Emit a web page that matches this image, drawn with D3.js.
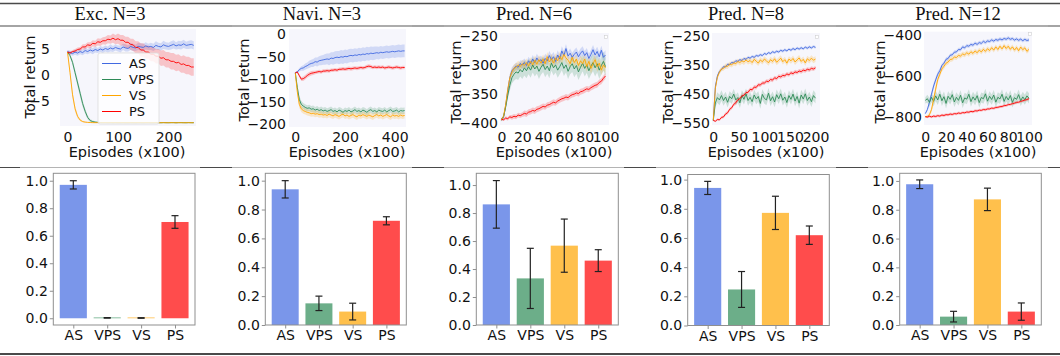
<!DOCTYPE html>
<html><head><meta charset="utf-8">
<script src="https://cdn.jsdelivr.net/npm/d3@7"></script>
<style>
html,body{margin:0;padding:0;background:#fff;}
svg{display:block;}
</style></head><body>
<svg id="c" width="1060" height="356"></svg>
<script>
// ---------------- DATA ----------------
const methods = ["AS","VPS","VS","PS"];
const titles = ["Exc. N=3","Navi. N=3","Pred. N=6","Pred. N=8","Pred. N=12"];
const xAxisTitle = "Episodes (x100)";
const yAxisTitle = "Total return";

// sampling grids (episodes x100)
const excEpisodes = d3.range(0, 251, 5);
const navEpisodes = d3.range(0, 441, 8);
const p6Episodes = d3.range(0, 101, 2);
const p8Episodes = d3.range(0, 201, 4);
const p12Episodes = d3.range(0, 101, 2);

// Exc. N=3
const excAS = [4.6,4.4,4.2,4.5,4.3,4.6,4.4,4.8,4.6,4.9,4.7,5.0,4.8,5.1,4.9,5.2,5.0,5.3,5.1,5.4,5.2,5.1,5.5,5.3,5.2,5.6,5.4,5.3,5.6,5.5,5.4,5.7,5.5,5.6,5.4,5.8,5.6,5.5,5.9,5.7,5.6,5.8,6.0,5.7,5.9,5.8,6.1,5.8,5.9,6.0,5.8];
const excASsd = [0.3,0.4,0.4,0.5,0.5,0.5,0.5,0.6,0.5,0.6,0.6,0.6,0.5,0.6,0.6,0.6,0.6,0.7,0.6,0.6,0.6,0.7,0.6,0.7,0.6,0.7,0.7,0.6,0.7,0.7,0.7,0.7,0.6,0.7,0.7,0.8,0.7,0.7,0.8,0.7,0.7,0.8,0.8,0.7,0.8,0.8,0.8,0.7,0.8,0.8,0.8];
const excVPS = [4.5,3.8,2.5,0.5,-1.5,-3.5,-5.5,-7.0,-8.2,-8.8,-9.0,-9.1,-9.15,-9.18,-9.2,-9.2,-9.21,-9.2,-9.22,-9.2,-9.21,-9.22,-9.2,-9.21,-9.22,-9.21,-9.2,-9.22,-9.21,-9.2,-9.22,-9.21,-9.2,-9.21,-9.22,-9.2,-9.21,-9.22,-9.2,-9.21,-9.22,-9.21,-9.2,-9.22,-9.21,-9.2,-9.21,-9.22,-9.2,-9.21,-9.22];
const excVPSsd = [0.1,0.3,0.5,0.6,0.7,0.7,0.6,0.5,0.4,0.3,0.2,0.15,0.1,0.1,0.08,0.08,0.08,0.08,0.08,0.08,0.08,0.08,0.08,0.08,0.08,0.08,0.08,0.08,0.08,0.08,0.08,0.08,0.08,0.08,0.08,0.08,0.08,0.08,0.08,0.08,0.08,0.08,0.08,0.08,0.08,0.08,0.08,0.08,0.08,0.08,0.08];
const excVS = [4.5,0.5,-3.8,-6.5,-8.0,-8.7,-9.0,-9.1,-9.15,-9.18,-9.2,-9.21,-9.2,-9.22,-9.21,-9.2,-9.22,-9.21,-9.2,-9.21,-9.22,-9.2,-9.21,-9.22,-9.2,-9.21,-9.22,-9.21,-9.2,-9.22,-9.21,-9.2,-9.21,-9.22,-9.2,-9.21,-9.22,-9.21,-9.2,-9.22,-9.21,-9.2,-9.21,-9.22,-9.2,-9.21,-9.22,-9.21,-9.2,-9.22,-9.21];
const excVSsd = [0.1,0.6,0.7,0.6,0.4,0.25,0.15,0.1,0.08,0.08,0.08,0.08,0.08,0.08,0.08,0.08,0.08,0.08,0.08,0.08,0.08,0.08,0.08,0.08,0.08,0.08,0.08,0.08,0.08,0.08,0.08,0.08,0.08,0.08,0.08,0.08,0.08,0.08,0.08,0.08,0.08,0.08,0.08,0.08,0.08,0.08,0.08,0.08,0.08,0.08,0.08];
const excPS = [4.5,4.3,4.6,4.7,5.0,5.1,5.5,5.5,5.9,5.8,6.2,6.1,6.5,6.4,6.7,6.7,7.0,6.9,7.2,6.9,7.1,6.8,6.8,6.4,6.4,6.0,5.9,5.4,5.4,4.9,4.9,4.5,4.5,4.1,4.1,3.7,3.7,3.3,3.4,3.0,3.0,2.7,2.7,2.4,2.5,2.1,2.2,1.9,1.9,1.6,1.6];
const excPSsd = [0.3,0.3,0.3,0.4,0.4,0.4,0.5,0.5,0.5,0.6,0.6,0.6,0.7,0.7,0.7,0.8,0.8,0.8,0.9,0.9,1.0,1.0,1.0,1.1,1.1,1.1,1.2,1.2,1.2,1.3,1.3,1.3,1.3,1.4,1.4,1.4,1.4,1.5,1.5,1.5,1.5,1.6,1.6,1.6,1.6,1.6,1.7,1.7,1.7,1.7,1.7];

// Navi. N=3
const navAS = [-86,-84,-79,-76,-75,-72,-70,-67,-65,-64,-61,-62,-59,-58,-57,-56,-55,-56,-53,-54,-52,-51,-52,-50,-51,-49,-50,-48,-47,-48,-46,-47,-45,-46,-44,-45,-43,-44,-42,-43,-42,-41,-42,-40,-41,-40,-39,-40,-39,-38,-39,-38,-37,-38,-37,-37];
const navASsd = [2,3,4,5,6,7,7,8,8,9,9,10,10,11,11,12,12,13,13,14,14,14,15,15,15,15,15,15,15,15,15,15,15,15,15,15,15,15,15,15,15,14,14,14,14,14,14,14,14,14,14,14,14,14,14,14];
const navVPS = [-86,-118,-145,-156,-160,-163,-165,-164,-167,-166,-169,-167,-170,-168,-171,-169,-172,-170,-168,-172,-170,-173,-169,-171,-174,-170,-172,-169,-173,-171,-168,-172,-170,-173,-169,-171,-174,-170,-168,-172,-170,-173,-169,-171,-172,-169,-173,-170,-168,-172,-171,-169,-173,-170,-171,-170];
const navVPSsd = [1,6,8,8,7,7,7,7,7,7,7,7,7,7,7,7,7,7,7,7,7,7,7,7,7,7,7,7,7,7,7,7,7,7,7,7,7,7,7,7,7,7,7,7,7,7,7,7,7,7,7,7,7,7,7,7];
const navVS = [-86,-128,-156,-166,-170,-172,-174,-175,-177,-176,-178,-177,-179,-178,-180,-179,-181,-178,-180,-182,-179,-181,-183,-180,-178,-182,-180,-183,-181,-179,-182,-184,-180,-182,-179,-181,-183,-180,-182,-184,-181,-179,-182,-180,-183,-181,-179,-182,-184,-180,-182,-181,-183,-180,-182,-181];
const navVSsd = [1,6,8,7,7,7,7,7,7,7,7,7,7,7,7,7,7,7,7,7,7,7,7,7,7,7,7,7,7,7,7,7,7,7,7,7,7,7,7,7,7,7,7,7,7,7,7,7,7,7,7,7,7,7,7,7];
const navPS = [-86,-84,-92,-100,-99,-96,-92,-89,-87,-86,-85,-84,-83,-84,-82,-82,-81,-82,-80,-80,-79,-80,-78,-78,-77,-78,-77,-76,-77,-76,-75,-76,-75,-74,-75,-74,-72,-71,-72,-74,-73,-74,-73,-74,-73,-75,-74,-73,-74,-75,-74,-73,-74,-75,-74,-74];
const navPSsd = [1,2,3,4,5,5,5,5,5,5,4,4,4,4,4,4,4,4,4,4,4,4,4,4,4,4,4,4,4,4,4,4,4,4,4,4,4,4,4,4,4,4,4,4,4,4,4,4,4,4,4,4,4,4,4,4];

// Pred. N=6
const p6AS = [-395,-390,-370,-345,-322,-310,-306,-302,-304,-298,-300,-296,-301,-293,-298,-290,-296,-288,-294,-291,-297,-289,-293,-284,-291,-286,-294,-283,-290,-276,-284,-272,-285,-280,-287,-282,-278,-286,-280,-276,-284,-279,-289,-282,-274,-283,-277,-286,-275,-287,-283];
const p6ASsd = [2,3,5,6,6,6,6,6,6,6,7,7,7,7,7,7,7,7,7,7,8,8,8,8,8,8,8,8,8,8,8,8,8,8,8,8,8,8,8,8,8,8,8,8,8,8,8,8,8,8,8];
const p6VPS = [-393,-388,-372,-352,-335,-322,-316,-312,-314,-308,-312,-305,-310,-303,-309,-300,-307,-302,-311,-304,-299,-308,-302,-310,-297,-305,-300,-309,-303,-296,-306,-300,-311,-303,-298,-307,-301,-312,-304,-297,-306,-300,-310,-302,-296,-305,-298,-309,-301,-294,-303];
const p6VPSsd = [2,3,5,7,9,10,11,12,12,12,12,13,13,13,13,13,13,13,13,13,13,13,13,13,13,13,13,13,13,13,13,13,13,13,14,14,14,14,14,14,14,14,14,15,15,15,15,15,15,16,16];
const p6VS = [-395,-388,-368,-342,-322,-312,-306,-304,-300,-303,-298,-301,-296,-302,-294,-300,-292,-299,-291,-297,-290,-298,-286,-295,-289,-297,-288,-293,-285,-291,-282,-288,-292,-298,-287,-296,-290,-301,-293,-298,-290,-303,-294,-306,-298,-291,-303,-297,-309,-300,-305];
const p6VSsd = [2,3,5,6,6,6,7,7,7,7,7,7,7,7,7,8,8,8,8,8,8,8,8,8,8,8,8,8,8,8,8,8,8,8,8,8,8,9,9,9,9,9,9,9,9,9,9,9,9,9,9];
const p6PS = [-393,-394,-391,-392,-389,-390,-388,-389,-386,-387,-385,-383,-384,-381,-380,-378,-379,-376,-375,-373,-371,-372,-369,-368,-366,-364,-365,-362,-360,-358,-357,-355,-356,-353,-351,-350,-348,-349,-346,-345,-343,-341,-342,-339,-337,-335,-334,-330,-328,-323,-319];
const p6PSsd = [2,2,3,3,3,4,4,4,4,4,4,5,5,5,5,5,5,5,5,5,5,5,5,5,5,5,5,5,5,5,5,5,5,5,5,5,5,5,5,5,5,5,5,5,5,5,5,5,5,5,5];

// Pred. N=8
const p8AS = [-540,-425,-388,-372,-366,-356,-357,-348,-349,-342,-343,-336,-338,-332,-335,-328,-331,-324,-327,-321,-324,-318,-320,-315,-318,-311,-314,-308,-311,-305,-308,-303,-306,-300,-303,-298,-302,-296,-300,-294,-298,-292,-296,-291,-295,-289,-293,-288,-292,-287,-290];
const p8ASsd = [2,8,6,5,5,5,5,5,5,5,5,5,5,5,5,5,5,5,5,5,5,5,5,5,5,5,5,5,5,5,5,5,5,5,5,5,5,5,5,5,5,5,5,5,5,5,5,5,5,5,5];
const p8VPS = [-540,-480,-462,-470,-455,-472,-460,-478,-458,-466,-450,-470,-462,-480,-455,-468,-449,-472,-461,-476,-453,-467,-458,-482,-451,-465,-470,-447,-473,-459,-477,-452,-466,-449,-471,-460,-479,-455,-468,-450,-474,-458,-481,-453,-467,-449,-472,-460,-476,-455,-464];
const p8VPSsd = [2,14,18,18,18,18,18,18,18,18,18,18,18,18,18,18,18,18,18,18,18,18,18,18,18,18,18,18,18,18,18,18,18,18,18,18,18,18,18,18,18,18,18,18,18,18,18,18,18,18,18];
const p8VS = [-540,-430,-392,-375,-364,-362,-354,-355,-347,-350,-343,-346,-338,-342,-336,-340,-333,-339,-335,-342,-331,-337,-344,-333,-339,-330,-336,-343,-332,-338,-329,-341,-334,-327,-339,-332,-344,-330,-336,-328,-340,-333,-326,-338,-331,-343,-329,-335,-327,-334,-330];
const p8VSsd = [2,10,8,8,8,8,9,9,9,9,9,9,9,10,10,10,10,10,10,10,10,10,10,10,10,10,10,10,10,10,10,10,10,10,10,10,10,10,10,10,10,10,10,10,10,10,10,10,10,10,10];
const p8PS = [-540,-543,-537,-538,-530,-528,-518,-514,-502,-497,-485,-480,-469,-466,-456,-454,-445,-444,-434,-435,-426,-427,-418,-419,-412,-412,-406,-407,-400,-402,-394,-397,-389,-391,-386,-387,-381,-384,-377,-380,-374,-376,-371,-373,-368,-370,-365,-367,-362,-364,-360];
const p8PSsd = [3,3,4,4,5,5,6,6,6,6,7,7,7,7,7,7,7,7,7,7,7,7,7,7,7,7,7,7,7,7,7,7,7,7,7,7,7,7,7,7,7,7,7,7,7,7,7,7,7,7,7];

// Pred. N=12
const p12AS = [-785,-765,-730,-690,-650,-620,-592,-575,-549,-538,-519,-515,-499,-497,-484,-483,-471,-472,-458,-463,-452,-455,-446,-450,-440,-446,-437,-441,-431,-437,-429,-432,-424,-430,-422,-426,-419,-424,-417,-421,-414,-421,-417,-425,-419,-426,-420,-428,-421,-427,-424];
const p12ASsd = [3,8,12,14,15,14,13,12,11,10,10,10,9,9,9,9,9,9,9,9,9,9,9,9,9,9,9,9,9,9,9,9,9,9,9,9,9,9,9,9,9,9,9,9,9,9,9,9,9,9,9];
const p12VPS = [-720,-712,-730,-705,-725,-698,-718,-690,-722,-702,-735,-700,-715,-692,-728,-705,-720,-695,-732,-708,-714,-690,-726,-703,-719,-697,-731,-706,-712,-688,-724,-700,-716,-694,-729,-705,-713,-690,-725,-701,-718,-696,-730,-707,-715,-692,-722,-703,-717,-698,-710];
const p12VPSsd = [15,20,22,24,25,25,25,25,25,25,25,25,25,25,25,25,25,25,25,25,25,25,25,25,25,25,25,25,25,25,25,25,25,25,25,25,25,25,25,25,25,25,25,25,25,25,25,25,25,25,25];
const p12VS = [-800,-798,-790,-765,-715,-665,-618,-592,-566,-553,-538,-532,-520,-518,-508,-510,-500,-503,-493,-497,-487,-494,-482,-490,-478,-487,-474,-483,-470,-480,-467,-476,-462,-474,-458,-471,-455,-468,-452,-466,-455,-470,-458,-474,-461,-477,-459,-472,-463,-480,-470];
const p12VSsd = [3,4,8,14,18,18,16,15,14,13,12,12,12,12,12,12,12,12,12,12,12,12,12,12,12,12,12,12,12,12,12,12,12,12,12,12,12,12,12,12,12,12,12,12,12,12,12,12,12,12,12];
const p12PS = [-800,-802,-798,-801,-797,-799,-795,-797,-792,-794,-790,-791,-787,-789,-785,-786,-782,-784,-780,-781,-777,-778,-774,-776,-771,-772,-768,-769,-765,-766,-762,-762,-758,-759,-755,-754,-751,-750,-746,-745,-741,-740,-736,-734,-730,-729,-725,-722,-719,-716,-712];
const p12PSsd = [4,5,6,6,7,7,7,7,7,7,7,7,7,7,7,7,7,7,7,7,7,7,7,7,7,7,7,7,7,7,7,7,7,7,7,7,7,7,7,7,7,7,7,7,7,7,7,7,7,7,7];

// tick values
const excYTicks = [-5, 0, 5], excXTicks = [0, 100, 200];
const navYTicks = [-200, -150, -100, -50, 0], navXTicks = [0, 200, 400];
const p6YTicks = [-400, -350, -300, -250], p6XTicks = [0, 20, 40, 60, 80, 100];
const p8YTicks = [-550, -450, -350, -250], p8XTicks = [0, 50, 100, 150, 200];
const p12YTicks = [-800, -600, -400], p12XTicks = [0, 20, 40, 60, 80, 100];
const barYTicks = [0, 0.2, 0.4, 0.6, 0.8, 1.0];

// success rates (bottom row)
const barExc = [0.97, 0.003, 0.002, 0.70],   barExcErr = [0.03, 0.002, 0.002, 0.046];
const barNav = [0.94, 0.15, 0.093, 0.722],   barNavErr = [0.06, 0.05, 0.058, 0.028];
const barP6 = [0.862, 0.333, 0.567, 0.46],   barP6Err = [0.17, 0.215, 0.19, 0.078];
const barP8 = [0.943, 0.247, 0.772, 0.619],  barP8Err = [0.045, 0.123, 0.114, 0.063];
const barP12 = [0.977, 0.058, 0.872, 0.093], barP12Err = [0.03, 0.037, 0.078, 0.06];

// ---------------- STYLE / LAYOUT ----------------
const colors = ["#4169e1", "#2e8b57", "#ffa500", "#ff0000"];
const SANS = "DejaVu Sans, sans-serif";
const SERIF = "Liberation Serif, Times New Roman, serif";

const topPanels = [
  {eps: excEpisodes, series: [[excAS,excASsd],[excVPS,excVPSsd],[excVS,excVSsd],[excPS,excPSsd]], yTicks: excYTicks, xTicks: excXTicks},
  {eps: navEpisodes, series: [[navAS,navASsd],[navVPS,navVPSsd],[navVS,navVSsd],[navPS,navPSsd]], yTicks: navYTicks, xTicks: navXTicks},
  {eps: p6Episodes, series: [[p6AS,p6ASsd],[p6VPS,p6VPSsd],[p6VS,p6VSsd],[p6PS,p6PSsd]], yTicks: p6YTicks, xTicks: p6XTicks},
  {eps: p8Episodes, series: [[p8AS,p8ASsd],[p8VPS,p8VPSsd],[p8VS,p8VSsd],[p8PS,p8PSsd]], yTicks: p8YTicks, xTicks: p8XTicks},
  {eps: p12Episodes, series: [[p12AS,p12ASsd],[p12VPS,p12VPSsd],[p12VS,p12VSsd],[p12PS,p12PSsd]], yTicks: p12YTicks, xTicks: p12XTicks}
];
const topLayout = [
  {bg:[60,196,29,126],   xRef:[0,200], xPix:[67.5,168.5],  yRef:[5,-5],      yPix:[49.5,101],  labRight:50,  ylab:[29.5,77],  xlabX:127, legend:true},
  {bg:[289,406,29,127],  xRef:[0,400], xPix:[295.3,394.7], yRef:[0,-200],    yPix:[34.3,124],  labRight:286, ylab:[243.5,80], xlabX:347},
  {bg:[500,609,33,125],  xRef:[0,100], xPix:[501.5,605.5], yRef:[-250,-400], yPix:[35.7,123.3],labRight:498, ylab:[455.5,82], xlabX:554, box:[604.5,35.5]},
  {bg:[712,820,33,125],  xRef:[0,200], xPix:[713.3,815.5], yRef:[-250,-550], yPix:[35.7,123.3],labRight:710, ylab:[667.5,82], xlabX:766, box:[815.5,35.5]},
  {bg:[924,1032,31.7,125],xRef:[0,100],xPix:[925.3,1029],  yRef:[-400,-800], yPix:[35,116.7],  labRight:922, ylab:[879.5,82], xlabX:978, box:[1028.5,32.5]}
];
const barPanels = [
  {v: barExc, e: barExcErr, frame:[53.3,195,173.3,325], yDom:[-0.049,1.054]},
  {v: barNav, e: barNavErr, frame:[265.3,406.3,173.3,325], yDom:[0,1.051]},
  {v: barP6, e: barP6Err, frame:[476.3,618.3,173.3,325], yDom:[0,1.084]},
  {v: barP8, e: barP8Err, frame:[687.7,829.3,174.5,325.5], yDom:[0,1.035]},
  {v: barP12, e: barP12Err, frame:[899.7,1041.3,173.3,325], yDom:[0,1.053]}
];

// ---------------- DRAW ----------------
const svg = d3.select("#c");
const intFmt = d3.format("d");

// table rules
function rule(y, w, col, x0, x1) {
  svg.append("line").attr("x1", x0).attr("x2", x1).attr("y1", y).attr("y2", y)
    .attr("stroke", col).attr("stroke-width", w);
}
rule(3.5, 1.5, "#4a4a4a", 0, 1060);
[26, 167.5].forEach(y => {
  rule(y, 1.2, "#4a4a4a", 0, 1060);
  for (let k = 0; k < 5; k++) rule(y, 1.2, "#b4b4b4", 20 + 212 * k, 200 + 212 * k);
});
rule(354, 2, "#4a4a4a", 0, 1060);

// headers
titles.forEach((t, k) => {
  svg.append("text").attr("x", 110 + 212 * k).attr("y", 20).attr("text-anchor", "middle")
    .attr("font-family", SERIF).attr("font-size", 18.5).attr("fill", "#111").text(t);
});

function styleAxis(g) {
  g.select(".domain").remove();
  g.attr("font-family", SANS).attr("font-size", 14);
  g.selectAll("text").attr("fill", "#111");
}

// top row: learning curves
topPanels.forEach((p, i) => {
  const L = topLayout[i];
  const x = d3.scaleLinear().domain(L.xRef).range(L.xPix);
  const y = d3.scaleLinear().domain(L.yRef).range(L.yPix);
  const g = svg.append("g");
  const cid = "clip" + i;
  svg.append("clipPath").attr("id", cid).append("rect")
    .attr("x", L.bg[0]).attr("y", L.bg[2]).attr("width", L.bg[1] - L.bg[0]).attr("height", L.bg[3] - L.bg[2]);
  g.append("rect").attr("x", L.bg[0]).attr("y", L.bg[2]).attr("width", L.bg[1] - L.bg[0])
    .attr("height", L.bg[3] - L.bg[2]).attr("fill", "#f6f6fc");
  const pg = g.append("g").attr("clip-path", `url(#${cid})`);
  p.series.forEach((s, j) => {
    const pts = d3.zip(p.eps, s[0], s[1]);
    pg.append("path").datum(pts)
      .attr("d", d3.area().x(d => x(d[0])).y0(d => y(d[1] - d[2])).y1(d => y(d[1] + d[2])))
      .attr("fill", colors[j]).attr("fill-opacity", 0.2);
  });
  p.series.forEach((s, j) => {
    const pts = d3.zip(p.eps, s[0], s[1]);
    pg.append("path").datum(pts)
      .attr("d", d3.line().x(d => x(d[0])).y(d => y(d[1])))
      .attr("fill", "none").attr("stroke", colors[j]).attr("stroke-width", 1).attr("stroke-opacity", 0.9);
  });
  g.append("g").attr("transform", `translate(${L.labRight + 3},0)`)
    .call(d3.axisLeft(y).tickValues(p.yTicks).tickSize(0).tickPadding(3).tickFormat(intFmt))
    .call(styleAxis);
  g.append("g").attr("transform", `translate(0,131.8)`)
    .call(d3.axisBottom(x).tickValues(p.xTicks).tickSize(0).tickPadding(0).tickFormat(intFmt))
    .call(styleAxis);
  g.append("text").attr("x", L.xlabX).attr("y", 157).attr("text-anchor", "middle")
    .attr("font-family", SANS).attr("font-size", 14.5).attr("fill", "#111").text(xAxisTitle);
  g.append("text").attr("transform", `translate(${L.ylab[0]},${L.ylab[1]}) rotate(-90)`)
    .attr("text-anchor", "middle").attr("dy", "0.35em")
    .attr("font-family", SANS).attr("font-size", 14.5).attr("fill", "#111").text(yAxisTitle);
  if (L.box) {
    g.append("rect").attr("x", L.box[0]).attr("y", L.box[1]).attr("width", 3).attr("height", 3)
      .attr("fill", "#fff").attr("stroke", "#d0d0d0").attr("stroke-width", 0.6);
  }
  if (L.legend) {
    const lg = g.append("g");
    lg.append("rect").attr("x", 98).attr("y", 53).attr("width", 61).attr("height", 71).attr("rx", 2)
      .attr("fill", "#fff").attr("fill-opacity", 0.8).attr("stroke", "#dcdcdc").attr("stroke-width", 0.8);
    methods.forEach((m, j) => {
      const yy = 63.5 + 16 * j;
      lg.append("line").attr("x1", 102).attr("x2", 121).attr("y1", yy).attr("y2", yy)
        .attr("stroke", colors[j]).attr("stroke-width", 1);
      lg.append("text").attr("x", 129).attr("y", yy).attr("dy", "0.36em")
        .attr("font-family", SANS).attr("font-size", 13).attr("fill", "#111").text(m);
    });
  }
});

// bottom row: success-rate bars
barPanels.forEach((b, i) => {
  const F = b.frame;
  const x = d3.scaleLinear().domain([-0.59, 3.59]).range([F[0], F[1]]);
  const y = d3.scaleLinear().domain(b.yDom).range([F[3], F[2]]);
  const g = svg.append("g");
  const bw = x(0.4) - x(-0.4);
  b.v.forEach((v, j) => {
    const top = y(v), base = y(0);
    g.append("rect").attr("x", x(j - 0.4)).attr("width", bw)
      .attr("y", Math.min(top, base - 0.8)).attr("height", Math.max(base - top, 0.8))
      .attr("fill", colors[j]).attr("fill-opacity", 0.7);
  });
  b.v.forEach((v, j) => {
    const cx = x(j), y1 = y(v + b.e[j]), y2 = y(v - b.e[j]);
    g.append("line").attr("x1", cx).attr("x2", cx).attr("y1", y1).attr("y2", y2)
      .attr("stroke", "#222").attr("stroke-width", 1.2);
    [y1, y2].forEach(yy => g.append("line").attr("x1", cx - 3.5).attr("x2", cx + 3.5)
      .attr("y1", yy).attr("y2", yy).attr("stroke", "#222").attr("stroke-width", 1.2));
  });
  g.append("rect").attr("x", F[0]).attr("y", F[2]).attr("width", F[1] - F[0]).attr("height", F[3] - F[2])
    .attr("fill", "none").attr("stroke", "#8f8f8f").attr("stroke-width", 1);
  const ya = g.append("g").attr("transform", `translate(${F[0]},0)`)
    .call(d3.axisLeft(y).tickValues(barYTicks).tickSize(3.5).tickPadding(2).tickFormat(d3.format(".1f")))
    .call(styleAxis);
  ya.selectAll("line").attr("stroke", "#8f8f8f");
  const xa = g.append("g").attr("transform", `translate(0,${F[3]})`)
    .call(d3.axisBottom(x).tickValues([0, 1, 2, 3]).tickSize(3.5).tickPadding(2).tickFormat(k => methods[k]))
    .call(styleAxis);
  xa.selectAll("line").attr("stroke", "#8f8f8f");
});
</script>
</body></html>
